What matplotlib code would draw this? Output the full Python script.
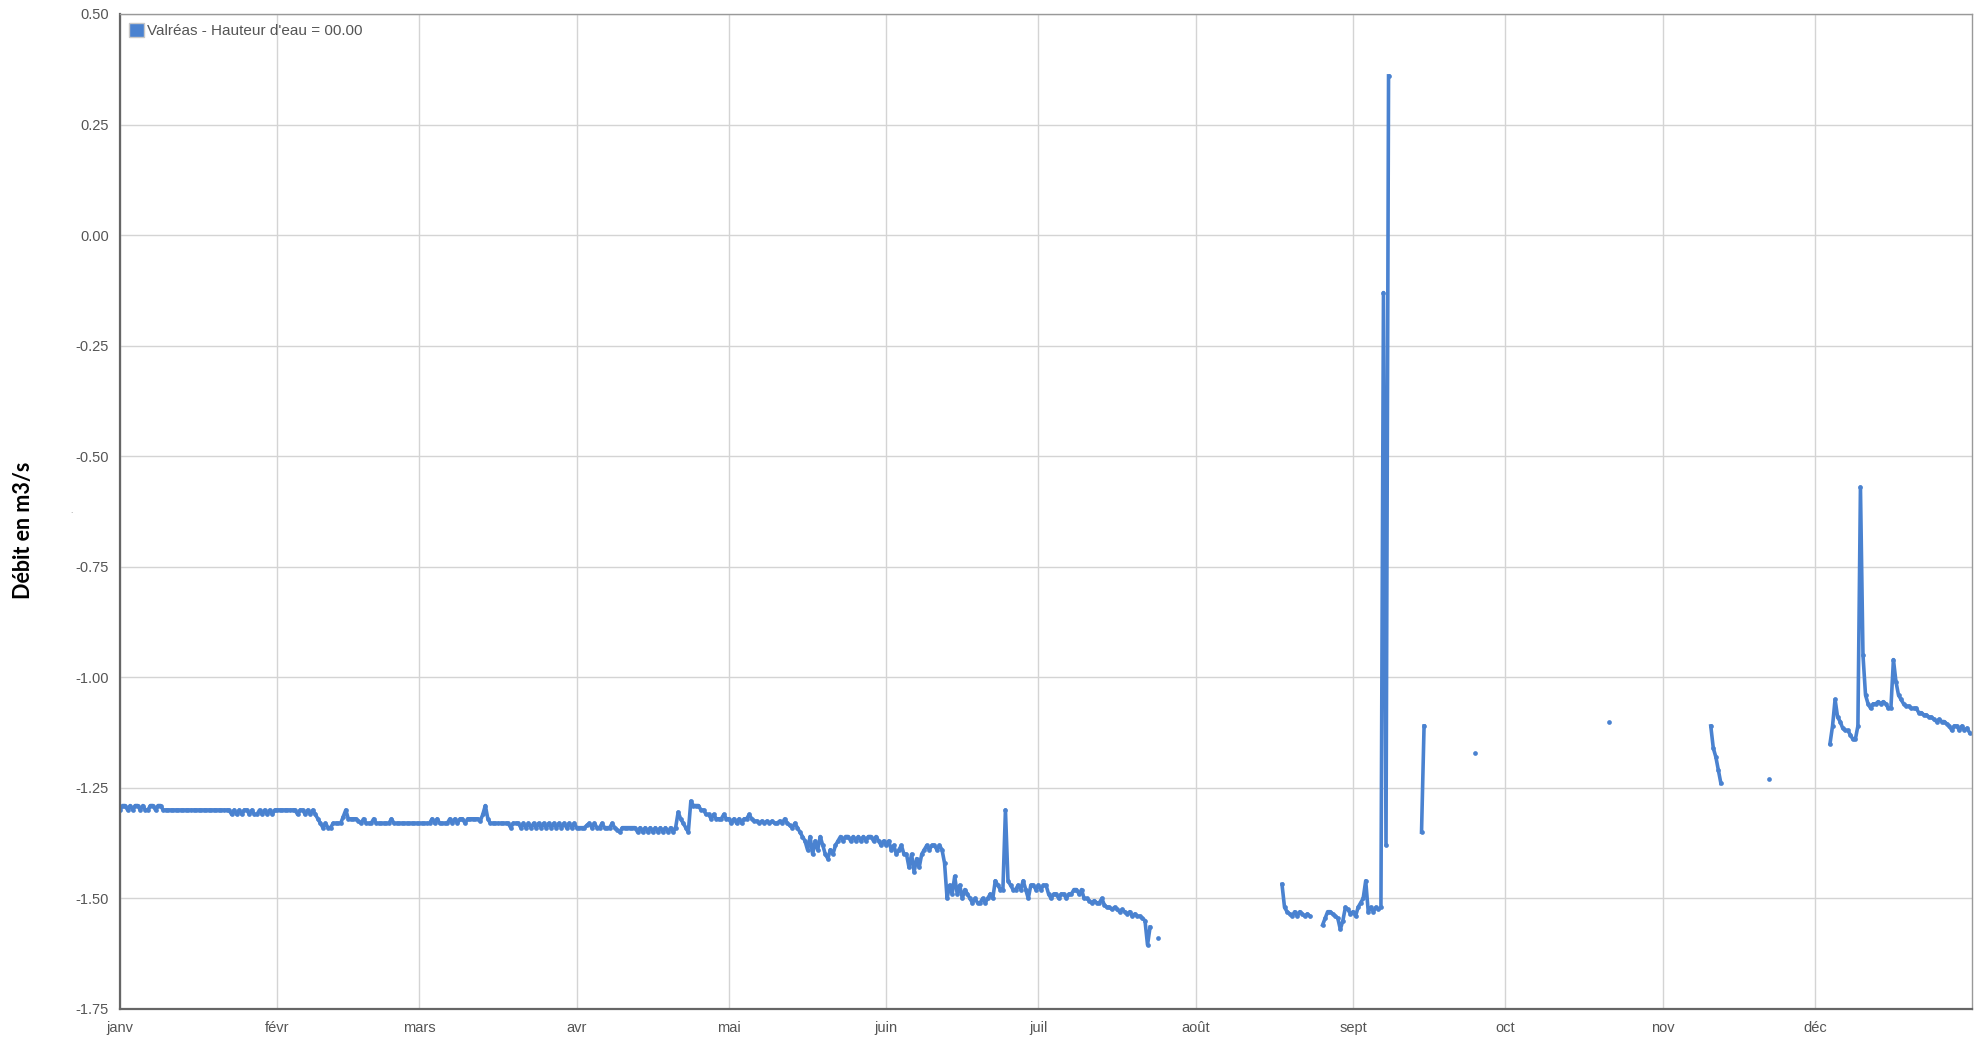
import numpy as np
import pandas as pd
import matplotlib
matplotlib.use("Agg")
import matplotlib.pyplot as plt
from matplotlib.patches import Patch

nan = np.nan

# débit relevé toutes les 12 h, un tableau par mois
janv = [-1.30, -1.29, -1.29, -1.30, -1.29, -1.30, -1.29, -1.29, -1.30, -1.29, -1.30, -1.30, -1.29, -1.29, -1.30, -1.29, -1.29, -1.30,
        -1.30, -1.30, -1.30, -1.30, -1.30, -1.30, -1.30, -1.30, -1.30, -1.30, -1.30, -1.30, -1.30, -1.30, -1.30, -1.30, -1.30, -1.30,
        -1.30, -1.30, -1.30, -1.30, -1.30, -1.30, -1.30, -1.30,
        -1.31, -1.30, -1.31, -1.30, -1.31, -1.30, -1.30, -1.31, -1.30, -1.31, -1.31, -1.30, -1.31, -1.30, -1.31, -1.30, -1.31, -1.30]
fevr = [-1.30, -1.30, -1.30, -1.30, -1.30, -1.30, -1.30, -1.30,
        -1.31, -1.30, -1.30, -1.31, -1.30, -1.31, -1.30, -1.31,
        -1.32, -1.33, -1.34, -1.33, -1.34, -1.34, -1.33, -1.33, -1.33, -1.33,
        -1.315, -1.30,
        -1.32, -1.32, -1.32, -1.32, -1.325, -1.33, -1.32, -1.33, -1.33, -1.33, -1.32, -1.33, -1.33, -1.33,
        -1.33, -1.33, -1.33, -1.32, -1.33, -1.33, -1.33, -1.33, -1.33, -1.33, -1.33, -1.33, -1.33, -1.33]
mars = [-1.33, -1.33, -1.33, -1.33, -1.33, -1.32,
        -1.33, -1.32, -1.33, -1.33, -1.33, -1.33,
        -1.32, -1.33, -1.32, -1.33, -1.32, -1.32, -1.33, -1.32, -1.32, -1.32,
        -1.32, -1.32, -1.325, -1.31,
        -1.29, -1.32,
        -1.33, -1.33, -1.33, -1.33, -1.33, -1.33, -1.33, -1.33, -1.34, -1.33, -1.33, -1.33, -1.34, -1.33,
        -1.34, -1.33, -1.34, -1.33, -1.34, -1.33, -1.34, -1.33, -1.34, -1.33,
        -1.34, -1.33, -1.34, -1.33, -1.34, -1.33, -1.34, -1.33, -1.34, -1.33]
avr = [-1.34, -1.34, -1.34, -1.34, -1.335, -1.33, -1.34, -1.33, -1.34, -1.34, -1.33, -1.34, -1.34, -1.34, -1.33, -1.34,
       -1.345, -1.35, -1.34, -1.34, -1.34, -1.34, -1.34, -1.34,
       -1.35, -1.34, -1.35, -1.34, -1.35, -1.34, -1.35, -1.34, -1.35, -1.34, -1.35, -1.34, -1.35, -1.34, -1.35, -1.34,
       -1.305, -1.32, -1.33, -1.34, -1.35, -1.28,
       -1.29, -1.29, -1.29, -1.30, -1.30, -1.31, -1.31, -1.32, -1.31, -1.32, -1.32, -1.32, -1.31, -1.32]
mai = [-1.32, -1.33, -1.32, -1.33, -1.32, -1.33, -1.32, -1.32,
       -1.31, -1.32,
       -1.325, -1.325, -1.33, -1.325, -1.33, -1.325, -1.33, -1.325, -1.33, -1.33, -1.325, -1.33, -1.32, -1.33, -1.335, -1.34,
       -1.33, -1.34, -1.35, -1.36, -1.37, -1.39,
       -1.36, -1.40, -1.37, -1.39, -1.36, -1.38, -1.40, -1.41, -1.39, -1.40,
       -1.38, -1.37, -1.36, -1.37, -1.36, -1.36, -1.37, -1.36, -1.37, -1.36,
       -1.37, -1.36, -1.37, -1.36, -1.36, -1.37, -1.36, -1.37, -1.38, -1.37]
juin = [-1.38, -1.37, -1.39, -1.38, -1.40, -1.39, -1.38, -1.40,
        -1.40, -1.43, -1.40, -1.44, -1.41, -1.43,
        -1.40, -1.39, -1.38, -1.39, -1.38, -1.38, -1.39, -1.38, -1.39, -1.42,
        -1.50, -1.47, -1.49, -1.45, -1.49, -1.47, -1.50, -1.48,
        -1.49, -1.50, -1.51, -1.50, -1.51, -1.51, -1.50, -1.51, -1.50, -1.49, -1.50,
        -1.46, -1.47, -1.48, -1.48, -1.30, -1.46, -1.47,
        -1.48, -1.48, -1.47, -1.48, -1.46, -1.48, -1.50, -1.47, -1.47, -1.48]
juil = [-1.47, -1.48, -1.47, -1.47,
        -1.49, -1.50, -1.49, -1.49, -1.50, -1.49, -1.49, -1.50, -1.49, -1.49,
        -1.48, -1.48, -1.49, -1.48,
        -1.50, -1.50, -1.505, -1.51, -1.505, -1.51, -1.51, -1.50,
        -1.515, -1.52, -1.52, -1.525, -1.52, -1.525, -1.53, -1.525,
        -1.53, -1.535, -1.53, -1.54, -1.535, -1.54, -1.54, -1.545,
        -1.55, -1.605, -1.565, nan, nan, -1.59,
        nan, nan, nan, nan, nan, nan, nan, nan, nan, nan, nan, nan, nan, nan]
aout = [nan, nan, nan, nan, nan, nan, nan, nan, nan, nan, nan, nan, nan, nan, nan, nan, nan,
        nan, nan, nan, nan, nan, nan, nan, nan, nan, nan, nan, nan, nan, nan, nan, nan, nan,
        -1.468, -1.52, -1.53, -1.535, -1.54, -1.53, -1.54, -1.53, -1.535, -1.54, -1.535, -1.54,
        nan, nan, nan, nan,
        -1.56, -1.545, -1.53, -1.53, -1.535, -1.54, -1.545, -1.57, -1.55, -1.52, -1.525, -1.535]
sept = [-1.53, -1.54, -1.52, -1.51, -1.50, -1.46, -1.53, -1.52, -1.53, -1.52, -1.525, -1.52,
        -0.13, -1.38, 0.36,
        nan, nan, nan, nan, nan, nan, nan, nan, nan, nan, nan, nan,
        -1.35, -1.11,
        nan, nan, nan, nan, nan, nan, nan, nan, nan, nan, nan, nan, nan, nan, nan, nan, nan, nan, nan,
        -1.17,
        nan, nan, nan, nan, nan, nan, nan, nan, nan, nan, nan]
octo = [nan] * 41 + [-1.10] + [nan] * 20
nov = [nan] * 19 + [-1.11, -1.16, -1.18, -1.21, -1.24] + [nan] * 18 + [-1.23] + [nan] * 17
dec = [nan, nan, nan, nan, nan, nan,
       -1.15, -1.11, -1.05, -1.09, -1.10, -1.115, -1.12, -1.12, -1.13, -1.14, -1.14, -1.11,
       -0.57, -0.95, -1.04, -1.06, -1.07, -1.06, -1.06, -1.055, -1.06, -1.055, -1.06, -1.07, -1.07,
       -0.96, -1.01, -1.04, -1.05, -1.06, -1.065, -1.065, -1.07, -1.07, -1.07, -1.08, -1.08,
       -1.085, -1.085, -1.09, -1.09, -1.095, -1.10, -1.095, -1.10, -1.10, -1.105, -1.11, -1.12,
       -1.11, -1.11, -1.12, -1.11, -1.12, -1.115, -1.125]

mois = ['janv', 'févr', 'mars', 'avr', 'mai', 'juin', 'juil', 'août', 'sept', 'oct', 'nov', 'déc']
serie = "Valréas - Hauteur d'eau = 00.00"

debit = janv + fevr + mars + avr + mai + juin + juil + aout + sept + octo + nov + dec
temps = pd.date_range('2019-01-01', periods=len(debit), freq='12h')

plt.rcParams['font.family'] = ['Liberation Sans Narrow', 'Liberation Sans', 'DejaVu Sans']

fig = plt.figure(figsize=(19.8, 10.43), dpi=100)
ax = fig.add_axes([0.0606, 0.0326, 0.9354, 0.954])

bleu = '#4a82d0'
ax.plot(temps, debit, color=bleu, lw=2.6, marker='o', ms=3.4, mew=0, solid_joinstyle='round')

ax.set_xlim(pd.Timestamp('2019-01-01'), pd.Timestamp('2020-01-01'))
ax.set_ylim(-1.75, 0.50)
ax.set_yticks(np.arange(-1.75, 0.51, 0.25))
ax.yaxis.set_major_formatter(plt.FormatStrFormatter('%.2f'))
ax.set_xticks(pd.date_range('2019-01-01', periods=12, freq='MS'))
ax.set_xticklabels(mois)

ax.grid(True, color='#d4d4d4', lw=1.0)
ax.set_axisbelow(True)
ax.tick_params(length=0, labelsize=10.5, labelcolor='#555555')
ax.tick_params(axis='x', pad=9)
ax.tick_params(axis='y', pad=8)
for s in ['top', 'right']:
    ax.spines[s].set_color('#999999')
    ax.spines[s].set_linewidth(1.0)
for s in ['left', 'bottom']:
    ax.spines[s].set_color('#666666')
    ax.spines[s].set_linewidth(1.6)

leg = ax.legend(handles=[Patch(facecolor=bleu, edgecolor='#c8c8c8', label=serie)],
                loc='upper left', frameon=False, fontsize=11, handlelength=1.0, handleheight=1.0,
                handletextpad=0.15, borderaxespad=0.35, borderpad=0.25)
for t in leg.get_texts():
    t.set_color('#555555')

fig.text(0.012, 0.4915, 'Débit en m3/s', rotation=90, va='center', ha='center',
         fontsize=15.5, fontweight='bold', family=['Lato', 'DejaVu Sans'], color='black')
fig.text(0.036, 0.51, '.', fontsize=6, color='#888888', ha='center', va='center')

fig.savefig('out.png', dpi=100)
